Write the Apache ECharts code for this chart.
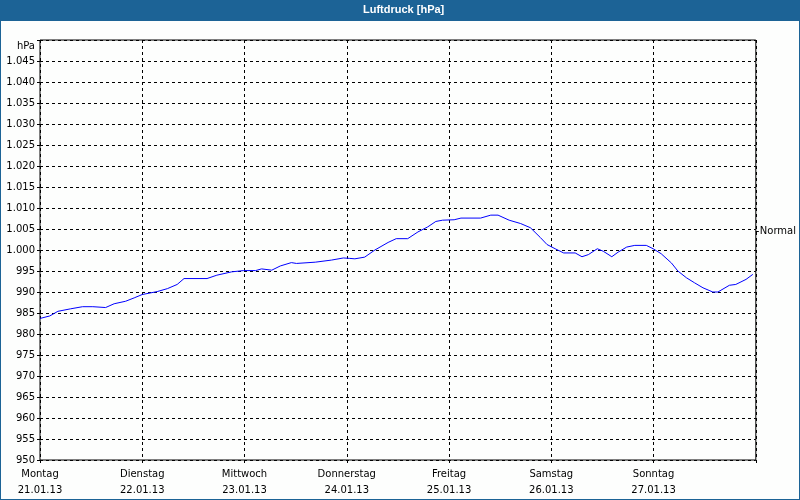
<!DOCTYPE html>
<html>
<head>
	<meta charset="utf-8">
	<title>Luftdruck</title>
	<script src="https://cdn.jsdelivr.net/npm/echarts@6/dist/echarts.min.js"></script>
	<style type="text/css">
		* {
			padding: 0;
			margin: 0;
		}
		body {
			background-color: #fff;
		}
		#chart {
			width: 798px;
			height: 498px;
			border: 1px solid #1c6396;
			background-color: #fdfefd;
		}
	</style>
</head>
<body>
	<div id="chart"></div>
	<script type="text/javascript">
		// Stunden seit Montag 00:00 und Luftdruck in hPa
		var hours = [0, 2.3, 4.2, 7.2, 10, 12.4, 15.4, 17.4, 20.1, 22.1,
			24, 27.5, 29.9, 32.2, 33.8, 39.2, 41.5, 45, 47.8, 50.6,
			52, 54.4, 56.4, 59, 60.2, 64.6, 68.4, 71.2, 72.7, 73.9,
			76.2, 78.6, 81.7, 83.6, 86.3, 88.7, 91, 92.9, 94.5, 97.2,
			98.8, 103.4, 105.8, 107.5, 110.1, 112.8, 115.1, 117.4, 119, 120.9,
			122.9, 125.6, 127.2, 128.7, 130.8, 132.2, 134.2, 135.7, 137.7, 139.6,
			142.3, 143.9, 145.8, 148.2, 149.7, 151.7, 153.6, 155.6, 157.9, 159.1,
			161.8, 163.3, 165.7, 167.3];
		var pressure = [983.7, 984.3, 985.4, 986, 986.5, 986.5, 986.3, 987.2, 987.8, 988.6,
			989.4, 990.1, 990.8, 991.8, 993.2, 993.2, 994, 994.8, 995.1, 995.1,
			995.5, 995.2, 996.2, 997, 996.8, 997.1, 997.6, 998.1, 998, 997.9,
			998.3, 1000, 1001.8, 1002.7, 1002.7, 1004.3, 1005.5, 1006.8, 1007.1, 1007.2,
			1007.6, 1007.6, 1008.3, 1008.3, 1007.1, 1006.3, 1005.3, 1003, 1001.3, 1000.3,
			999.3, 999.3, 998.4, 998.9, 1000.3, 999.7, 998.4, 999.5, 1000.7, 1001.1,
			1001.1, 1000.3, 999.1, 996.9, 995, 993.4, 992.2, 991, 990, 990,
			991.6, 991.8, 993, 994.2];
		var days = ['Montag', 'Dienstag', 'Mittwoch', 'Donnerstag', 'Freitag', 'Samstag', 'Sonntag'];
		var dates = ['21.01.13', '22.01.13', '23.01.13', '24.01.13', '25.01.13', '26.01.13', '27.01.13'];
		var normal = 1004.4;

		var font = 'DejaVu Sans';
		var lineData = [];
		for (let i = 0; i < hours.length; i++) {
			lineData.push([hours[i], pressure[i]]);
		}

		var myChart = echarts.init(document.getElementById('chart'));
		var option = {
			animation: false,
			backgroundColor: '#fdfefd',
			graphic: [
				{
					type: 'rect',
					z: -1,
					shape: { x: 0, y: 0, width: 798, height: 20 },
					style: { fill: '#1c6396' }
				}
			],
			title: {
				text: 'Luftdruck [hPa]',
				left: 362,
				top: 3,
				padding: 0,
				textStyle: {
					color: '#fff',
					fontFamily: 'Liberation Sans',
					fontSize: 11,
					fontWeight: 'bold'
				}
			},
			grid: {
				left: 39,
				right: 39,
				top: 39,
				bottom: 39,
				show: true,
				borderColor: '#000',
				borderWidth: 1,
				backgroundColor: 'transparent'
			},
			xAxis: {
				type: 'value',
				min: 0,
				max: 168,
				interval: 24,
				axisLine: { show: false },
				axisTick: { show: true, length: 3, lineStyle: { color: '#000' } },
				axisLabel: {
					color: '#000',
					fontFamily: font,
					fontSize: 10,
					lineHeight: 16,
					margin: 6,
					formatter: function (v) {
						var i = Math.round(v / 24);
						if (i < days.length) {
							return days[i] + '\n' + dates[i];
						}
						return '';
					}
				},
				splitLine: {
					show: true,
					lineStyle: { color: '#000', type: [3, 3], width: 1 }
				}
			},
			yAxis: [
				{
					type: 'value',
					min: 950,
					max: 1050,
					interval: 5,
					axisLine: { show: false },
					axisTick: { show: true, length: 3, lineStyle: { color: '#000' } },
					axisLabel: {
						color: '#000',
						fontFamily: font,
						fontSize: 10,
						margin: 5,
						showMaxLabel: true,
						formatter: function (v) {
							if (v >= 1050) {
								return '{u|hPa}';
							}
							if (v >= 1000) {
								var r = String(v - 1000);
								while (r.length < 3) r = '0' + r;
								return '1.' + r;
							}
							return String(v);
						},
						rich: {
							u: { color: '#000', fontFamily: font, fontSize: 10, padding: [12, 0, 0, 0] }
						}
					},
					splitLine: {
						show: true,
						lineStyle: { color: '#000', type: [3, 3], width: 1 }
					}
				},
				{
					type: 'value',
					position: 'right',
					min: 950,
					max: 1050,
					axisLine: { show: false },
					axisTick: {
						show: true,
						length: 3,
						customValues: [normal],
						lineStyle: { color: '#000' }
					},
					axisLabel: {
						color: '#000',
						fontFamily: font,
						fontSize: 10,
						margin: 4,
						customValues: [normal],
						formatter: function () { return 'Normal'; }
					},
					splitLine: { show: false }
				}
			],
			series: [
				{
					type: 'line',
					data: lineData,
					symbol: 'none',
					smooth: false,
					lineStyle: { color: '#0000ff', width: 1 },
					itemStyle: { color: '#0000ff' }
				}
			]
		};
		myChart.setOption(option);
	</script>
</body>
</html>
